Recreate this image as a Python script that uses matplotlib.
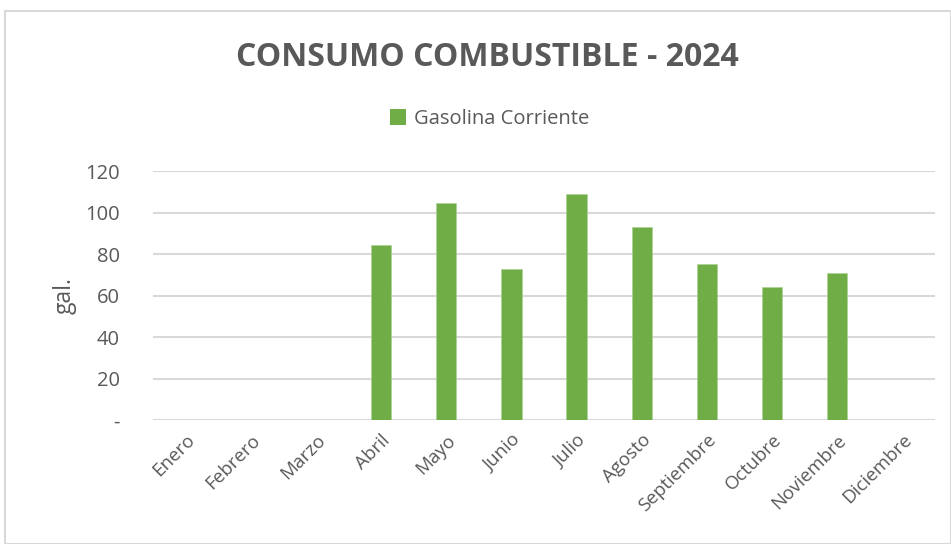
import matplotlib
matplotlib.use("Agg")
import matplotlib.pyplot as plt
from matplotlib.patches import Rectangle, Patch

months = ["Enero", "Febrero", "Marzo", "Abril", "Mayo", "Junio", "Julio",
          "Agosto", "Septiembre", "Octubre", "Noviembre", "Diciembre"]
gasolina = [0, 0, 0, 84.5, 104.4, 72.8, 108.8, 93.2, 75.2, 64.1, 70.8, 0]
yticks = [0, 20, 40, 60, 80, 100, 120]
yticklabels = ["-", "20", "40", "60", "80", "100", "120"]

plt.rcParams['font.family'] = ['Open Sans', 'DejaVu Sans']
gray = "#595959"
green = "#70AD47"

W, H = 951, 544
fig = plt.figure(figsize=(W / 100, H / 100), dpi=100)
fig.patches.append(Rectangle((5 / W, 0), 1 - 5 / W, 1 - 11 / H, transform=fig.transFigure,
                             fill=False, edgecolor="#d9d9d9", linewidth=1.5))

ax = fig.add_axes([153 / W, 1 - 420 / H, (935 - 153) / W, (420 - 171) / H])
x = range(len(months))
ax.bar(x, gasolina, width=0.31, color=green, zorder=3, edgecolor="#A9D18E", linewidth=0.4)
ax.set_xlim(-0.5, len(months) - 0.5)
ax.set_ylim(0, 120)
ax.set_yticks(yticks)
ax.set_yticklabels(yticklabels, color=gray, fontsize=14.5)
ax.set_xticks(list(x))
ax.set_xticklabels(months, rotation=45, ha="right", rotation_mode="anchor",
                   color=gray, fontsize=13.5)
ax.tick_params(axis="y", length=0, pad=24)
ax.tick_params(axis="x", length=0, pad=8)
ax.grid(axis="y", color="#d9d9d9", linewidth=1.5, zorder=0)
for s in ax.spines.values():
    s.set_visible(False)
ax.set_ylabel("gal.", color=gray, fontsize=16.5)
ax.yaxis.set_label_coords(-0.098, 0.5)

fig.text(487 / W, 1 - 58 / H, "CONSUMO COMBUSTIBLE - 2024", ha="center", va="center",
         fontsize=23, fontweight="bold", color=gray)
fig.legend(handles=[Patch(facecolor=green, label="Gasolina Corriente")],
           loc="center", bbox_to_anchor=(490 / W, 1 - 119 / H), frameon=False,
           fontsize=14.5, labelcolor=gray, handlelength=0.8, handleheight=0.8,
           handletextpad=0.4)

fig.savefig("out.png", dpi=100)
